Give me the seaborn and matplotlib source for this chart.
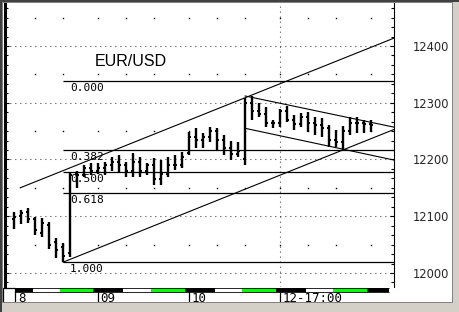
import numpy as np
import pandas as pd
import matplotlib
matplotlib.use("Agg")
import matplotlib.pyplot as plt
from matplotlib.patches import Rectangle
from matplotlib.ticker import MultipleLocator
import seaborn as sns

# ---------------- data ----------------
highs = [12107, 12111, 12115, 12099, 12097, 12090, 12062, 12053, 12178, 12180,
         12190, 12194, 12194, 12196, 12204, 12208, 12196, 12211, 12204, 12194,
         12203, 12199, 12204, 12208, 12213, 12248, 12256, 12247, 12257, 12256,
         12243, 12233, 12231, 12308, 12312, 12300, 12293, 12270, 12289, 12294,
         12278, 12282, 12284, 12275, 12273, 12261, 12252, 12259, 12275, 12275,
         12270, 12270]
lows = [12078, 12086, 12088, 12067, 12063, 12042, 12026, 12019, 12028, 12150,
        12169, 12173, 12174, 12173, 12180, 12178, 12169, 12169, 12169, 12173,
        12155, 12155, 12169, 12181, 12185, 12208, 12220, 12220, 12231, 12217,
        12208, 12199, 12204, 12190, 12270, 12275, 12257, 12256, 12257, 12266,
        12252, 12257, 12248, 12243, 12240, 12222, 12222, 12217, 12243, 12247,
        12247, 12248]
opens = [12095, 12100, 12108, 12095, 12070, 12085, 12055, 12045, 12035, 12175,
         12172, 12185, 12180, 12185, 12190, 12195, 12190, 12180, 12195, 12180,
         12190, 12165, 12175, 12190, 12190, 12212, 12240, 12235, 12240, 12250,
         12235, 12220, 12210, 12200, 12300, 12285, 12280, 12265, 12265, 12285,
         12270, 12262, 12275, 12265, 12260, 12255, 12235, 12230, 12250, 12265,
         12265, 12262]
closes = [12098, 12105, 12095, 12075, 12088, 12050, 12040, 12030, 12172, 12172,
          12185, 12180, 12185, 12190, 12195, 12190, 12180, 12195, 12180, 12190,
          12165, 12175, 12190, 12190, 12205, 12240, 12235, 12240, 12250, 12235,
          12220, 12210, 12215, 12300, 12285, 12280, 12265, 12265, 12285, 12270,
          12262, 12275, 12265, 12260, 12255, 12235, 12230, 12250, 12265, 12265,
          12262, 12260]

fib_ratios = [0.0, 0.382, 0.5, 0.618, 1.0]
fib_labels = ["0.000", "0.382", "0.500", "0.618", "1.000"]
fib_top = 12338
fib_bottom = 12019
fib_start_bar = 7

# trend lines: (bar index, price) anchor pairs
trend_lines = {
    "up_upper": ([0.86, 54.3], [12150, 12414]),
    "up_lower": ([7.0, 54.3], [12019, 12253]),
    "dn_upper": ([33.0, 54.3], [12312, 12257]),
    "dn_lower": ([33.0, 54.3], [12255, 12199]),
}

# trading-session strip (start bar, end bar, colour)
session_starts = [0.14, 2.71, 6.57, 11.29, 15.57, 19.57, 24.43, 28.71, 32.57, 37.43, 41.71, 45.57, 50.43]
session_ends = [2.71, 6.57, 11.29, 15.57, 19.57, 24.43, 28.71, 32.57, 37.43, 41.71, 45.57, 50.43, 53.6]
session_colors = ["black", "white", "#00ff00", "black", "white", "#00ff00", "black",
                  "white", "#00ff00", "black", "white", "#00ff00", "black"]

x_tick_bars = [0.3, 12, 25, 38]
x_tick_labels = ["8", "09", "10", "12-17:00"]
y_ticks = [12000, 12100, 12200, 12300, 12400]
grid_cols = [3, 7, 12, 16, 20, 25, 29, 33, 38, 42, 46, 51]
grid_half_rows = [12050, 12150, 12250, 12350, 12450]
title = "EUR/USD"

# ---------------- figure ----------------
sns.set_theme(style="white")
plt.rcParams["font.family"] = ["DejaVu Sans"]

W, H = 459, 312
fig = plt.figure(figsize=(W / 100, H / 100), dpi=100, facecolor="white")

def fx(px):
    return px / W

def fy(py):
    return 1 - py / H

ax = fig.add_axes([fx(5), fy(287), fx(394) - fx(5), fy(3) - fy(287)])
ax.set_facecolor("white")
xmin, xmax = -1.29, 54.29
ax.set_xlim(xmin, xmax)
ax.set_ylim(11975.3, 12475.8)

bars = np.arange(len(highs))

# grid
for yv in y_ticks:
    ax.axhline(yv, color="black", lw=0.8, dashes=(0.7, 3.8), zorder=1)
ax.axvline(38, color="black", lw=0.8, dashes=(0.7, 3.8), zorder=1)
gx, gy = np.meshgrid(grid_cols, grid_half_rows)
ax.plot(gx.ravel(), gy.ravel(), ls="none", marker="s", ms=1.0, mew=0, color="black", zorder=1)

# fibonacci levels
rng = fib_top - fib_bottom
for r, lab in zip(fib_ratios, fib_labels):
    lvl = fib_top - r * rng
    ax.hlines(lvl, fib_start_bar, xmax, color="black", lw=0.9, zorder=2)
    ax.annotate(lab, (fib_start_bar, lvl), xytext=(5, -1.5), textcoords="offset points",
                ha="left", va="top", fontsize=8, family="DejaVu Sans Mono", color="black", zorder=2)

# trend lines via seaborn
rows = []
for name, (xs, ys) in trend_lines.items():
    for xv, yv in zip(xs, ys):
        rows.append({"line": name, "bar": xv, "price": yv})
tl = pd.DataFrame(rows)
sns.lineplot(data=tl, x="bar", y="price", units="line", estimator=None, color="black",
             lw=0.8, ax=ax, legend=False, zorder=3)

# OHLC bars
ax.vlines(bars, lows, highs, color="black", lw=1.7, zorder=4)
ax.hlines(opens, bars - 0.32, bars, color="black", lw=1.4, zorder=4)
ax.hlines(closes, bars, bars + 0.32, color="black", lw=1.4, zorder=4)

ax.text(11.6, 12372, title, fontsize=11.5, family="Liberation Sans", ha="left", va="center",
        color="black", fontweight="medium")

ax.set_xlabel("")
ax.set_ylabel("")
ax.set_xticks([])
ax.set_yticks(y_ticks)
ax.set_yticklabels([str(v) for v in y_ticks])
ax.yaxis.set_minor_locator(MultipleLocator(100 / 6))
ax.tick_params(axis="y", which="both", left=True, right=True, labelleft=False, labelright=True,
               direction="in", color="black")
ax.tick_params(axis="y", which="major", length=3, width=0.8, pad=13.5, labelsize=8.3)
ax.tick_params(axis="y", which="minor", length=2.5, width=0.8)
for s in ["top", "bottom"]:
    ax.spines[s].set_visible(False)
ax.spines["left"].set_linewidth(2.2)
ax.spines["left"].set_color("black")
ax.spines["right"].set_linewidth(0.8)
ax.spines["right"].set_color("black")

# bottom time strip axes
ax2 = fig.add_axes([fx(5), fy(306), fx(394) - fx(5), fy(287) - fy(306)])
ax2.set_xlim(xmin, xmax)
ax2.set_ylim(0, 19)
ax2.axis("off")
for s0, s1, c in zip(session_starts, session_ends, session_colors):
    ax2.broken_barh([(s0, s1 - s0)], (14.2, 3.6), facecolors=c, edgecolors="none")
ax2.hlines([14.2, 17.8], session_starts[0], session_ends[-1], color="black", lw=0.6)
for xb, lab in zip(x_tick_bars, x_tick_labels):
    if lab != "8":
        ax2.vlines(xb, 0, 14.5, color="black", lw=0.9)
    ax2.annotate(lab, (xb, 7.5), xytext=(1.8, 0), textcoords="offset points", ha="left", va="center",
                 fontsize=9, family="DejaVu Sans Mono", color="black")

# window frame decorations
fig.add_artist(Rectangle((fx(3), fy(306)), fx(12), fy(288) - fy(306), transform=fig.transFigure,
                         fc="white", ec="black", lw=0.9))
fig.add_artist(Rectangle((0, 0), 1, fy(302), transform=fig.transFigure, fc="#d4d0c8", ec="none"))
fig.add_artist(Rectangle((fx(452), 0), 1 - fx(452), 1, transform=fig.transFigure, fc="#d4d0c8", ec="none"))
fig.add_artist(Rectangle((0, fy(2)), 1, 1 - fy(2), transform=fig.transFigure, fc="#404040", ec="none"))
fig.add_artist(Rectangle((0, 0), fx(2), 1, transform=fig.transFigure, fc="#404040", ec="none"))
fig.add_artist(Rectangle((fx(2), fy(302)), fx(450), fy(2) - fy(302), transform=fig.transFigure,
                         fc="none", ec="#808080", lw=0.7))

fig.savefig("out.png", dpi=100, facecolor="white")
